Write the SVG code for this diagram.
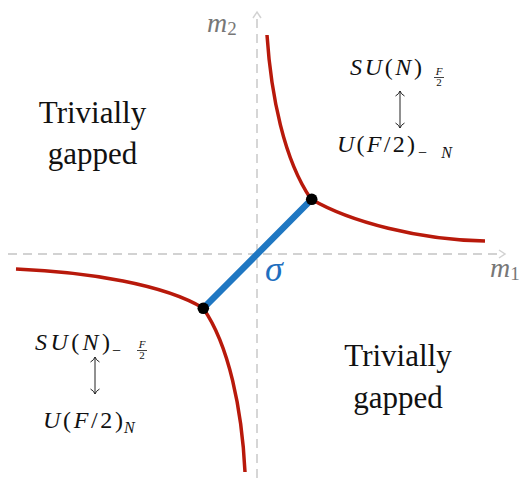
<svg xmlns="http://www.w3.org/2000/svg" width="524" height="486" viewBox="0 0 524 486" font-family="Liberation Serif, serif">
<defs>
<path id="dbl-arrow" d="M0,0 V37 M-4.5,5 Q-1,3 0,0 Q1,3 4.5,5 M-4.5,32 Q-1,34 0,37 Q1,34 4.5,32" stroke="#222" stroke-width="1" fill="none"/>
</defs>
<g id="axes" stroke="#d2d2d2" fill="none">
<line x1="257" y1="478" x2="257" y2="16" stroke-width="1.8" stroke-dasharray="9 6"/>
<path d="M253,18 L257,12 L261,18" stroke-width="1.5"/>
<line x1="8" y1="254" x2="502" y2="254" stroke-width="1.8" stroke-dasharray="9 6"/>
<path d="M499,250 L505,254 L499,258" stroke-width="1.5"/>
</g>
<g id="axis-labels">
<text x="207" y="32" font-family="Liberation Serif" font-style="italic" fill="#777" font-size="28">m<tspan font-style="normal" font-size="19" dy="3">2</tspan></text>
<text x="490" y="277" font-family="Liberation Serif" font-style="italic" fill="#777" font-size="28">m<tspan font-style="normal" font-size="19" dy="3">1</tspan></text>
</g>
<g id="connectors" fill="none">
<g stroke="#b8190b" stroke-width="3.5">
<path d="M267,35 C271,95 284,160 311,199"/>
<path d="M311,199 C350,222 420,240 485,241"/>
<path d="M16,269 C90,272 165,285 203,308"/>
<path d="M203,308 C229,345 242,410 245,472"/>
</g>
<line id="sigma-line" x1="203.3" y1="308.3" x2="311.7" y2="199.3" stroke="#1f77c2" stroke-width="6.5" stroke-linecap="round"/>
</g>
<g id="dot-upper"><circle cx="311.7" cy="199.3" r="5.8" fill="#000"/></g>
<g id="dot-lower"><circle cx="203.3" cy="308.3" r="5.8" fill="#000"/></g>
<g id="sigma"><text x="265" y="281" font-family="Liberation Serif" font-style="italic" font-size="36" fill="#1f6fbf">σ</text></g>
<g id="trivial-upper-left">
<text x="92.5" y="123" text-anchor="middle" font-family="Liberation Serif" font-size="31" fill="#111">Trivially</text>
<text x="92.5" y="164" text-anchor="middle" font-family="Liberation Serif" font-size="31" fill="#111">gapped</text>
</g>
<g id="trivial-lower-right">
<text x="398" y="366" text-anchor="middle" font-family="Liberation Serif" font-size="31" fill="#111">Trivially</text>
<text x="398" y="408" text-anchor="middle" font-family="Liberation Serif" font-size="31" fill="#111">gapped</text>
</g>
<g id="duality-upper">
<text x="350" y="75" font-family="Liberation Serif" font-size="24" fill="#111" textLength="72" lengthAdjust="spacing"><tspan font-style="italic">SU</tspan>(<tspan font-style="italic">N</tspan>)</text>
<text x="439" y="75" text-anchor="middle" font-family="Liberation Serif" font-style="italic" font-size="11" fill="#111">F</text>
<line x1="434" y1="77.5" x2="444" y2="77.5" stroke="#111" stroke-width="0.8"/>
<text x="439" y="86" text-anchor="middle" font-family="Liberation Serif" font-size="11" fill="#111">2</text>
<use href="#dbl-arrow" x="400" y="91"/>
<text x="337" y="152" font-family="Liberation Serif" font-size="24" fill="#111" textLength="78" lengthAdjust="spacing"><tspan font-style="italic">U</tspan>(<tspan font-style="italic">F</tspan>/2)</text>
<text x="418" y="158" font-family="Liberation Serif" font-size="16" fill="#111" textLength="34" lengthAdjust="spacing">−<tspan font-style="italic">N</tspan></text>
</g>
<g id="duality-lower">
<text x="35" y="350" font-family="Liberation Serif" font-size="24" fill="#111" textLength="75" lengthAdjust="spacing"><tspan font-style="italic">SU</tspan>(<tspan font-style="italic">N</tspan>)</text>
<text x="112" y="356" font-family="Liberation Serif" font-size="16" fill="#111">−</text>
<text x="142" y="348" text-anchor="middle" font-family="Liberation Serif" font-style="italic" font-size="11" fill="#111">F</text>
<line x1="137" y1="350.5" x2="147" y2="350.5" stroke="#111" stroke-width="0.8"/>
<text x="142" y="359" text-anchor="middle" font-family="Liberation Serif" font-size="11" fill="#111">2</text>
<use href="#dbl-arrow" x="95" y="357"/>
<text x="43" y="428" font-family="Liberation Serif" font-size="24" fill="#111" textLength="80" lengthAdjust="spacing"><tspan font-style="italic">U</tspan>(<tspan font-style="italic">F</tspan>/2)</text>
<text x="124" y="433" font-family="Liberation Serif" font-style="italic" font-size="16" fill="#111">N</text>
</g>
</svg>
